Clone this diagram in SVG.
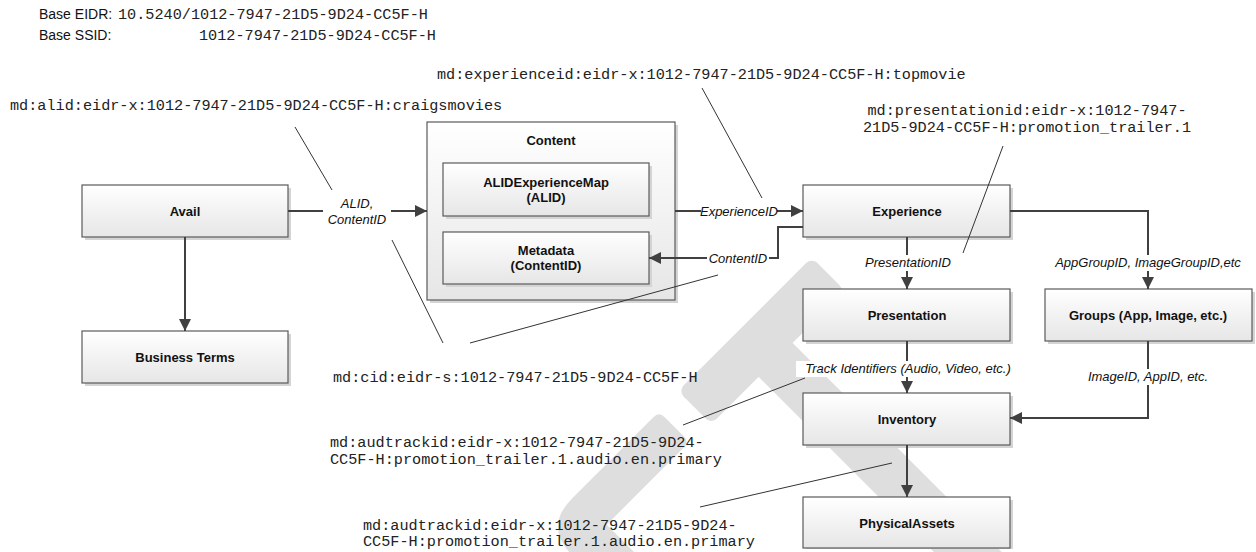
<svg xmlns="http://www.w3.org/2000/svg" width="1256" height="552" viewBox="0 0 1256 552">
  <defs>
    <linearGradient id="boxfill" x1="0" y1="0" x2="0" y2="1">
      <stop offset="0" stop-color="#ffffff"/>
      <stop offset="1" stop-color="#e6e6e6"/>
    </linearGradient>
    <marker id="arrow" markerUnits="userSpaceOnUse" markerWidth="13" markerHeight="12" refX="12" refY="6" orient="auto">
      <path d="M0,0 L12,6 L0,12 z" fill="#404040"/>
    </marker>
    <style>
      .box { fill: url(#boxfill); stroke: #5a5a5a; stroke-width: 1.2; }
      .shadow { fill: #d4d4d4; }
      .title { font-family: "Liberation Sans", Arial, sans-serif; font-size: 13px; font-weight: bold; fill: #111; text-anchor: middle; }
      .lbl { font-family: "Liberation Sans", Arial, sans-serif; font-size: 13px; font-style: italic; fill: #111; text-anchor: middle; }
      .lblbg { fill: #ffffff; }
      .conn { fill: none; stroke: #404040; stroke-width: 2; }
      .leader { fill: none; stroke: #333333; stroke-width: 1; }
      .mono { font-family: "Liberation Mono", "Courier New", monospace; font-size: 15.2px; fill: #222; }
      .base { font-family: "Liberation Sans", Arial, sans-serif; font-size: 14px; fill: #111; }
      .wm { fill: #dedede; }
    </style>
  </defs>

  <rect width="1256" height="552" fill="#ffffff"/>

  <!-- watermark -->
  <g id="watermark" transform="rotate(45)">
    <rect class="wm" x="756" y="-392" width="47" height="189" rx="8"/>
    <rect class="wm" x="760" y="-318" width="500" height="48" rx="8"/>
    <path class="wm" d="M765,-175 L792,-175 Q800,-175 800,-167 L800,-58 L1200,-58 L1200,-12 L797,-12 Q757,-12 757,-52 L757,-167 Q757,-175 765,-175 z"/>
  </g>

  <!-- header -->
  <g id="header">
    <text class="base" x="39" y="19">Base EIDR:</text>
    <text class="mono" x="118" y="19">10.5240/1012-7947-21D5-9D24-CC5F-H</text>
    <text class="base" x="39" y="40">Base SSID:</text>
    <text class="mono" x="199" y="40">1012-7947-21D5-9D24-CC5F-H</text>
  </g>

  <!-- nodes -->
  <g id="avail">
    <rect class="shadow" x="85" y="188" width="206" height="52"/>
    <rect class="box" x="82" y="185" width="206" height="52"/>
    <text class="title" x="185" y="216">Avail</text>
  </g>
  <g id="business-terms">
    <rect class="shadow" x="85" y="334" width="206" height="52"/>
    <rect class="box" x="82" y="331" width="206" height="52"/>
    <text class="title" x="185" y="362">Business Terms</text>
  </g>
  <g id="content">
    <rect class="shadow" x="430" y="125" width="248" height="178"/>
    <rect class="box" x="427" y="122" width="248" height="178"/>
    <text class="title" x="551" y="145">Content</text>
  </g>
  <g id="alid-experience-map">
    <rect class="shadow" x="446" y="166" width="206" height="53"/>
    <rect class="box" x="443" y="163" width="206" height="53"/>
    <text class="title" x="546" y="187">ALIDExperienceMap</text>
    <text class="title" x="546" y="202">(ALID)</text>
  </g>
  <g id="metadata">
    <rect class="shadow" x="446" y="235" width="206" height="52"/>
    <rect class="box" x="443" y="232" width="206" height="52"/>
    <text class="title" x="546" y="255">Metadata</text>
    <text class="title" x="546" y="270">(ContentID)</text>
  </g>
  <g id="experience">
    <rect class="shadow" x="806" y="188" width="207" height="52"/>
    <rect class="box" x="803" y="185" width="207" height="52"/>
    <text class="title" x="907" y="216">Experience</text>
  </g>
  <g id="presentation">
    <rect class="shadow" x="806" y="292" width="207" height="52"/>
    <rect class="box" x="803" y="289" width="207" height="52"/>
    <text class="title" x="907" y="320">Presentation</text>
  </g>
  <g id="groups">
    <rect class="shadow" x="1048" y="292" width="207" height="52"/>
    <rect class="box" x="1045" y="289" width="207" height="52"/>
    <text class="title" x="1148" y="320">Groups (App, Image, etc.)</text>
  </g>
  <g id="inventory">
    <rect class="shadow" x="806" y="396" width="207" height="52"/>
    <rect class="box" x="803" y="393" width="207" height="52"/>
    <text class="title" x="907" y="424">Inventory</text>
  </g>
  <g id="physical-assets">
    <rect class="shadow" x="806" y="500" width="207" height="49"/>
    <rect class="box" x="803" y="497" width="207" height="51"/>
    <text class="title" x="907" y="528">PhysicalAssets</text>
  </g>

  <!-- connectors -->
  <g id="connectors">
    <path class="conn" d="M288,211 L427,211" marker-end="url(#arrow)"/>
    <rect class="lblbg" x="323" y="195" width="68" height="34"/>
    <text class="lbl" x="357" y="208">ALID,</text>
    <text class="lbl" x="357" y="224">ContentID</text>

    <path class="conn" d="M185,237 L185,331" marker-end="url(#arrow)"/>

    <path class="conn" d="M675,211 L803,211" marker-end="url(#arrow)"/>
    <rect class="lblbg" x="701" y="203" width="76" height="16"/>
    <text class="lbl" x="739" y="216">ExperienceID</text>

    <path class="conn" d="M803,227 L778,227 L778,258 L649,258" marker-end="url(#arrow)"/>
    <rect class="lblbg" x="707" y="250" width="62" height="16"/>
    <text class="lbl" x="738" y="263">ContentID</text>

    <path class="conn" d="M907,237 L907,289" marker-end="url(#arrow)"/>
    <rect class="lblbg" x="862" y="255" width="92" height="16"/>
    <text class="lbl" x="908" y="267">PresentationID</text>

    <path class="conn" d="M1010,211 L1148,211 L1148,289" marker-end="url(#arrow)"/>
    <rect class="lblbg" x="1058" y="255" width="180" height="16"/>
    <text class="lbl" x="1148" y="267">AppGroupID, ImageGroupID,etc</text>

    <path class="conn" d="M907,341 L907,393" marker-end="url(#arrow)"/>
    <rect class="lblbg" x="796" y="361" width="224" height="16"/>
    <text class="lbl" x="908" y="373">Track Identifiers (Audio, Video, etc.)</text>

    <path class="conn" d="M1148,341 L1148,418 L1010,418" marker-end="url(#arrow)"/>
    <rect class="lblbg" x="1084" y="369" width="128" height="16"/>
    <text class="lbl" x="1148" y="381">ImageID, AppID, etc.</text>

    <path class="conn" d="M907,445 L907,497" marker-end="url(#arrow)"/>
  </g>

  <!-- annotation leader lines -->
  <g id="leaders">
    <path class="leader" d="M295,127 L332,190"/>
    <path class="leader" d="M392,240 L443,343"/>
    <path class="leader" d="M702,88 L762,198"/>
    <path class="leader" d="M718,275 L470,343"/>
    <path class="leader" d="M1003,146 L963,253"/>
    <path class="leader" d="M805,378 L683,425"/>
    <path class="leader" d="M892,463 L700,507"/>
  </g>

  <!-- annotations -->
  <g id="annotations">
    <text class="mono" x="10" y="110">md:alid:eidr-x:1012-7947-21D5-9D24-CC5F-H:craigsmovies</text>
    <text class="mono" x="437" y="79">md:experienceid:eidr-x:1012-7947-21D5-9D24-CC5F-H:topmovie</text>
    <text class="mono" x="1027" y="115" text-anchor="middle">md:presentationid:eidr-x:1012-7947-</text>
    <text class="mono" x="1027" y="132" text-anchor="middle">21D5-9D24-CC5F-H:promotion_trailer.1</text>
    <text class="mono" x="333" y="382">md:cid:eidr-s:1012-7947-21D5-9D24-CC5F-H</text>
    <text class="mono" x="330" y="447">md:audtrackid:eidr-x:1012-7947-21D5-9D24-</text>
    <text class="mono" x="330" y="464">CC5F-H:promotion_trailer.1.audio.en.primary</text>
    <text class="mono" x="363" y="530">md:audtrackid:eidr-x:1012-7947-21D5-9D24-</text>
    <text class="mono" x="363" y="546">CC5F-H:promotion_trailer.1.audio.en.primary</text>
  </g>
</svg>
